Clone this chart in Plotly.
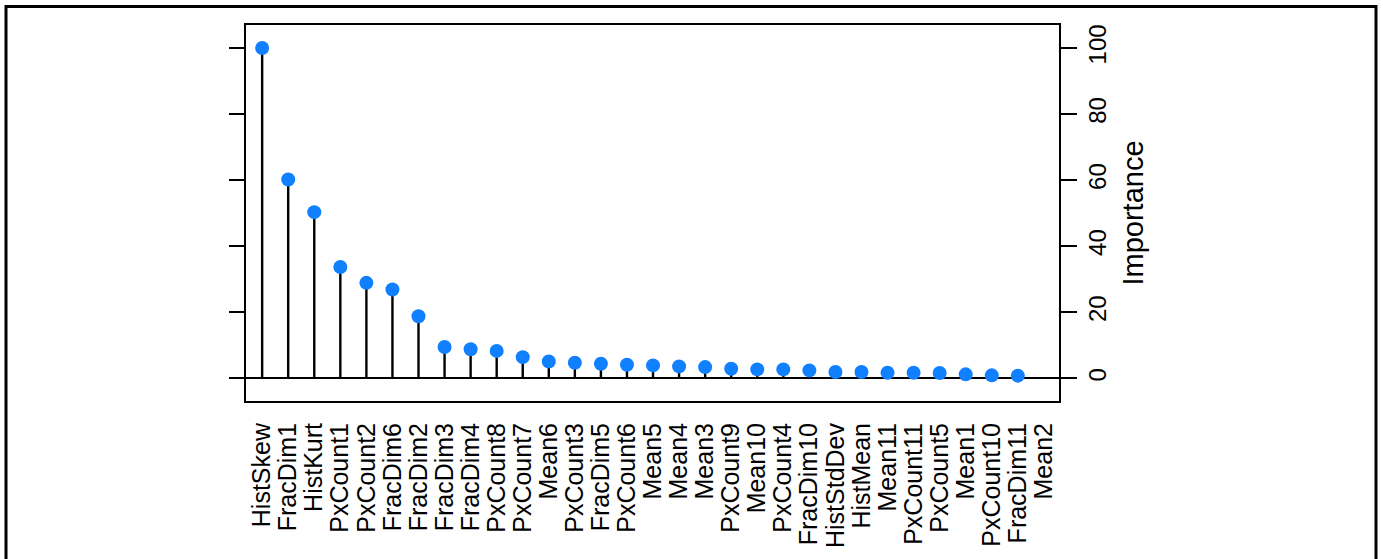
import plotly.graph_objects as go

categories = ["HistSkew", "FracDim1", "HistKurt", "PxCount1", "PxCount2", "FracDim6",
              "FracDim2", "FracDim3", "FracDim4", "PxCount8", "PxCount7", "Mean6",
              "PxCount3", "FracDim5", "PxCount6", "Mean5", "Mean4", "Mean3",
              "PxCount9", "Mean10", "PxCount4", "FracDim10", "HistStdDev", "HistMean",
              "Mean11", "PxCount11", "PxCount5", "Mean1", "PxCount10", "FracDim11", "Mean2"]
importance = [100, 60.2, 50.3, 33.7, 28.9, 26.9,
              18.8, 9.5, 8.8, 8.3, 6.4, 5.1,
              4.7, 4.4, 4.1, 3.9, 3.6, 3.4,
              2.9, 2.7, 2.7, 2.4, 1.9, 1.9,
              1.7, 1.7, 1.6, 1.2, 0.9, 0.8, None]
y_ticks = [0, 20, 40, 60, 80, 100]

FONT = "Liberation Sans, Arial, sans-serif"

stem_x, stem_y = [], []
for c, v in zip(categories, importance):
    if v is None:
        continue
    stem_x += [c, c, None]
    stem_y += [0, v, None]

fig = go.Figure()
fig.add_trace(go.Scatter(x=stem_x, y=stem_y, mode="lines",
                         line=dict(color="black", width=2.4),
                         hoverinfo="skip", showlegend=False, yaxis="y"))
fig.add_trace(go.Scatter(x=categories, y=importance, mode="markers",
                         marker=dict(color="#1080FF", size=14),
                         showlegend=False, yaxis="y2"))

W0, W1 = 246, 1059
H0, H1 = 24.5, 400.7
FW, FH = 1383, 559

def px_x(p):
    return (p - W0) / (W1 - W0)

def px_y(p):
    return (H1 - p) / (H1 - H0)

yr = [-6.87, 106.96]
fig.update_layout(
    width=FW, height=FH,
    margin=dict(l=W0, r=FW - W1, t=H0, b=FH - H1),
    paper_bgcolor="white", plot_bgcolor="white",
    font=dict(family=FONT, color="black"),
    xaxis=dict(type="category", categoryorder="array", categoryarray=categories,
               tickmode="array", tickvals=categories, ticktext=categories,
               range=[-0.62, 30.58], showgrid=False, zeroline=False,
               showline=True, mirror=True, linecolor="black", linewidth=2,
               ticks="", tickangle=-90, tickfont=dict(size=25, family=FONT),
               ticklabelstandoff=10, automargin=False),
    yaxis=dict(range=yr, tickvals=y_ticks, showticklabels=False,
               ticks="outside", ticklen=15, tickwidth=2, tickcolor="black",
               showgrid=False, zeroline=True, zerolinecolor="black", zerolinewidth=2,
               showline=True, linecolor="black", linewidth=2, mirror=True,
               automargin=False),
    yaxis2=dict(range=yr, tickvals=y_ticks, overlaying="y", side="right",
                ticks="outside", ticklen=17, tickwidth=2, tickcolor="black",
                tickangle=-90, tickfont=dict(size=24, family=FONT),
                showgrid=False, zeroline=False, showline=False, automargin=False,
                title=dict(text="Importance", font=dict(size=29, family=FONT), standoff=12)),
    shapes=[dict(type="rect", xref="paper", yref="paper",
                 x0=px_x(6), x1=px_x(1376), y0=px_y(600), y1=px_y(6),
                 line=dict(color="black", width=3), fillcolor="rgba(0,0,0,0)",
                 layer="above")],
)

fig.write_html("out.html", config={"displayModeBar": False},
               post_script="document.body.style.margin='0px';")
